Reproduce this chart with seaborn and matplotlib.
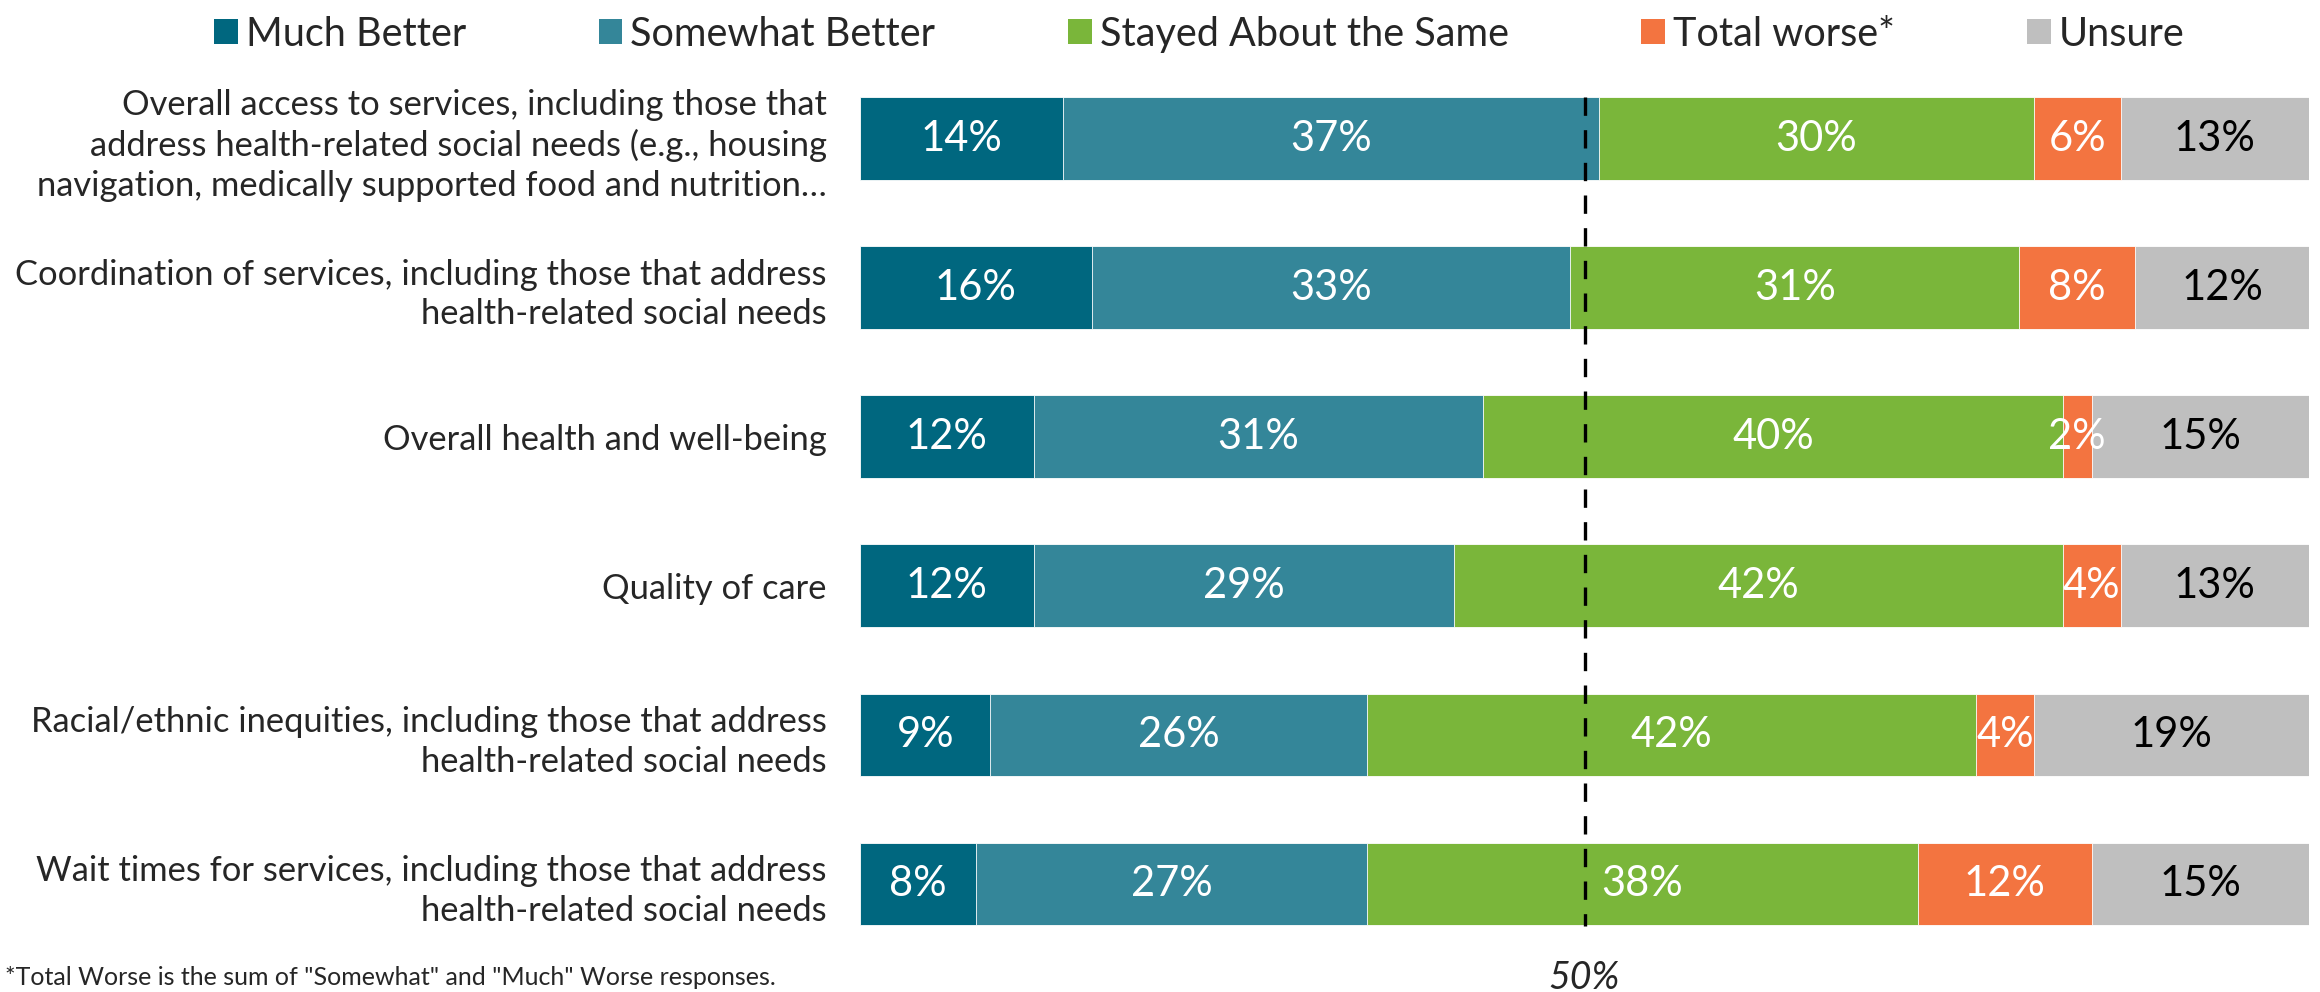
import numpy as np
import pandas as pd
import matplotlib
matplotlib.use("Agg")
import matplotlib.pyplot as plt
import seaborn as sns
from matplotlib.patches import Patch

# ---- data ----
categories = [
    "Overall access to services, including those that\naddress health-related social needs (e.g., housing\nnavigation, medically supported food and nutrition\u2026",
    "Coordination of services, including those that address\nhealth-related social needs",
    "Overall health and well-being",
    "Quality of care",
    "Racial/ethnic inequities, including those that address\nhealth-related social needs",
    "Wait times for services, including those that address\nhealth-related social needs",
]
series_names = ["Much Better", "Somewhat Better", "Stayed About the Same", "Total worse*", "Unsure"]
much_better = [14, 16, 12, 12, 9, 8]
somewhat_better = [37, 33, 31, 29, 26, 27]
stayed_same = [30, 31, 40, 42, 42, 38]
total_worse = [6, 8, 2, 4, 4, 12]
unsure = [13, 12, 15, 13, 19, 15]

colors = ["#00677f", "#348699", "#7ab63a", "#f37440", "#bfbfbf"]
text_colors = ["white", "white", "white", "white", "black"]

sns.set_theme(style="white")
plt.rcParams["font.family"] = ["Lato", "DejaVu Sans"]
FS_CAT = 24.8
FS_BAR = 30
FS_LEG = 28.5

df = pd.DataFrame({
    "category": categories,
    series_names[0]: much_better,
    series_names[1]: somewhat_better,
    series_names[2]: stayed_same,
    series_names[3]: total_worse,
    series_names[4]: unsure,
})
cum = df[series_names].cumsum(axis=1)

fig = plt.figure(figsize=(23.2, 9.92), dpi=100)
ax = fig.add_axes([0.3707, 0.0252, 0.6246, 0.919])

# stacked bars: draw cumulative totals from the largest down
for i in range(len(series_names) - 1, -1, -1):
    sns.barplot(x=cum[series_names[i]], y=df["category"], orient="h", color=colors[i],
                width=0.553, saturation=1, edgecolor="white", linewidth=0.6, ax=ax)

# segment labels
for i, name in enumerate(series_names):
    for j in range(len(categories)):
        val = df[name].iloc[j]
        mid = cum[name].iloc[j] - val / 2
        ax.text(mid, j, f"{val}%", ha="center", va="center", fontsize=FS_BAR, color=text_colors[i])

# 50% reference line
ax.vlines(50, -0.28, 5.28, colors="black", linestyles=(0, (5.5, 4.3)), linewidth=2.4, zorder=5)
ax.text(50, -0.012, "50%", transform=ax.get_xaxis_transform(), ha="center", va="center",
        fontsize=27, style="italic")

ax.set_xlim(0, 100)
ax.set_xlabel("")
ax.set_ylabel("")
ax.set_xticks([])
ax.tick_params(axis="y", length=0, pad=24, labelsize=FS_CAT)
for lbl in ax.get_yticklabels():
    lbl.set_linespacing(1.3)
for s in ax.spines.values():
    s.set_visible(False)

handles = [Patch(facecolor=c, edgecolor="none") for c in colors]
fig.legend(handles, series_names, loc="upper center", bbox_to_anchor=(0.517, 1.012), ncol=5,
           frameon=False, handlelength=0.6, handleheight=0.6, handletextpad=0.2,
           columnspacing=3.35, borderpad=0.2, fontsize=FS_LEG)

fig.text(0.002, 0.015, "*Total Worse is the sum of \"Somewhat\" and \"Much\" Worse responses.",
         ha="left", va="center", fontsize=18)

fig.savefig("out.png", dpi=100)
